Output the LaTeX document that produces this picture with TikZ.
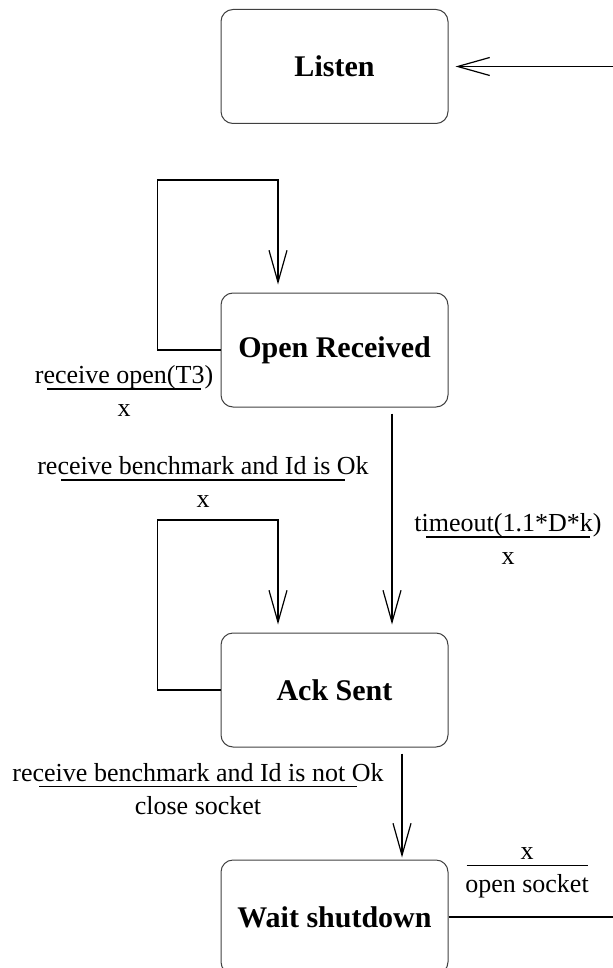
\documentclass[tikz,border=0pt]{standalone}
\usepackage{fontspec}
\setmainfont{Liberation Serif}
\usepackage{tikz}
\usetikzlibrary{arrows.meta,calc}
\definecolor{boxline}{HTML}{404040}

\newcommand{\trans}[3]{#2\\[-12.5pt]\rule{#1}{0.6pt}\\[-2pt]#3}

\tikzset{
  state/.style={draw=boxline, line width=0.5pt, rounded corners=6pt,
    minimum width=113.5pt, minimum height=57pt, inner sep=0pt,
    font=\fontsize{15}{18}\selectfont\bfseries},
  conn/.style={line width=0.9pt, -{Straight Barb[length=16pt,width=9pt,line width=0.6pt]}},
  plain/.style={line width=0.9pt},
  lbl/.style={align=center, inner sep=0pt, font=\fontsize{13}{15.6}\selectfont}
}

\begin{document}
\begin{tikzpicture}[x=0.5pt, y=-0.5pt]
\path[use as bounding box, clip] (0,0) rectangle (613,968);

\node[state] (listen) at (334.5,66.5) {Listen};
\node[state] (open) at (334.5,350) {Open Received};
\node[state] (ack) at (334.5,690) {Ack Sent};
\node[state] (wait) at (334.5,917) {Wait shutdown};

\coordinate (in) at (613,66.5);
\coordinate (out) at (613,917);

% transitions
\draw[conn] (in) -- ([xshift=3.5pt]listen.east);
\draw[conn] (open.west) -- ++(-63,0) -- ++(0,-170) -| ([xshift=-28.25pt,yshift=4pt]open.north);
\draw[conn] ([xshift=28.75pt,yshift=-3pt]open.south) -- ([xshift=28.75pt,yshift=4pt]ack.north);
\draw[conn] (ack.west) -- ++(-63,0) -- ++(0,-170) -| ([xshift=-28.25pt,yshift=4pt]ack.north);
\draw[conn] ([xshift=33.75pt,yshift=-3pt]ack.south) -- ([xshift=33.75pt,yshift=1pt]wait.north);
\draw[plain] (wait.east) -- (out);

% labels
\node[lbl] (l1) at (124,391) {\trans{76.5pt}{receive open(T3)}{x}};
\node[lbl] (l2) at (203,482) {\trans{141.5pt}{receive benchmark and Id is Ok}{x}};
\node[lbl] (l3) at (508,539) {\trans{82pt}{timeout(1.1*D*k)}{x}};
\node[lbl] (l4) at (198,789) {\trans{158.5pt}{receive benchmark and Id is not Ok}{close socket}};
\node[lbl] (l5) at (527,873) {\trans{60.5pt}{x}{open socket}};
\end{tikzpicture}
\end{document}
